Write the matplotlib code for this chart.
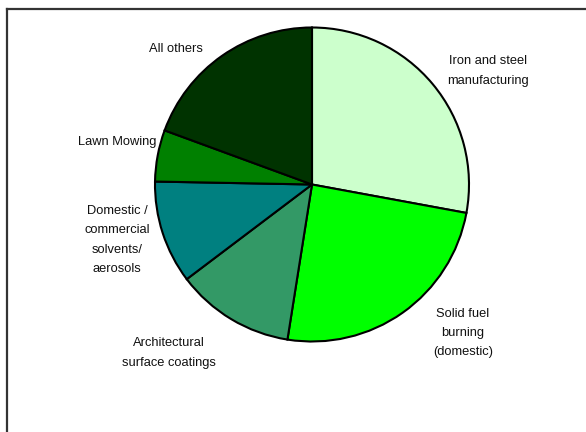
import matplotlib
matplotlib.use("Agg")
import matplotlib.pyplot as plt
from matplotlib.lines import Line2D

# Emission sources, clockwise from 12 o'clock (percent share)
sources = [
    "Iron and steel\nmanufacturing",
    "Solid fuel\nburning\n(domestic)",
    "Architectural\nsurface coatings",
    "Domestic /\ncommercial\nsolvents/\naerosols",
    "Lawn Mowing",
    "All others",
]
shares = [27.9, 24.6, 12.2, 10.6, 5.3, 19.4]
colors = ["#CCFFCC", "#00FF00", "#339966", "#008080", "#008000", "#003300"]

# Label anchor points (pixel space, y measured from the bottom)
label_xy = [
    (488, 361),
    (463, 99),
    (169, 79),
    (117, 192),
    (117, 290),
    (176, 383),
]

W, H = 586, 432
fig = plt.figure(figsize=(W / 100, H / 100), dpi=100)
ax = fig.add_axes([0, 0, 1, 1])

ax.pie(
    shares,
    colors=colors,
    startangle=90,
    counterclock=False,
    center=(312, H - 184.5),
    radius=157,
    wedgeprops=dict(edgecolor="black", linewidth=1.5),
    frame=True,
)
ax.set_xlim(0, W)
ax.set_ylim(0, H)
ax.set_aspect("equal")
ax.axis("off")

for text, (x, y) in zip(sources, label_xy):
    ax.text(x, y, text, ha="center", va="center", fontsize=9.3,
            family=["Liberation Sans", "DejaVu Sans"], color="#111111",
            linespacing=1.8)

# Chart-area border (top and left edges)
fig.add_artist(Line2D([6.5 / W, 1.0], [1 - 8.5 / H, 1 - 8.5 / H],
                      transform=fig.transFigure, color="#333333", linewidth=1.6))
fig.add_artist(Line2D([6.5 / W, 6.5 / W], [0, 1 - 8.5 / H],
                      transform=fig.transFigure, color="#333333", linewidth=1.6))

fig.savefig("out.png", dpi=100, facecolor="white")
